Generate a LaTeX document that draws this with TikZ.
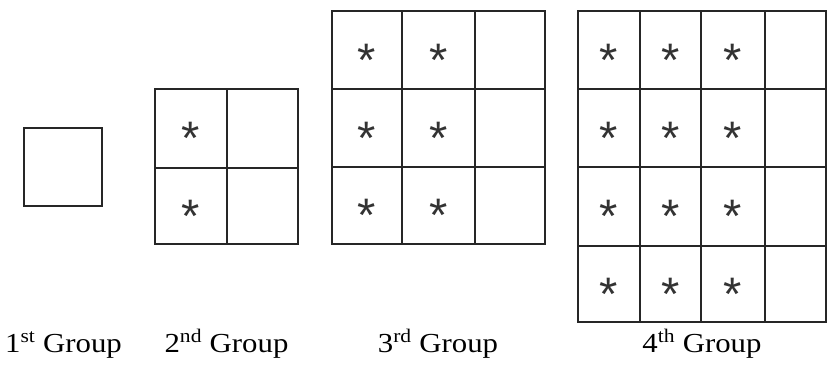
\documentclass[tikz,border=0pt]{standalone}
\usepackage{fontspec}
\setmainfont{Liberation Serif}
\newfontfamily\labelfont[FakeStretch=1.12]{Liberation Serif}
\newfontfamily\astfont{Liberation Sans}
\usetikzlibrary{positioning}
\tikzset{
    cellline/.style={
        draw=black!85,
        line width=1.6pt,
    },
    ast/.style={
        font=\astfont\fontsize{47}{47}\selectfont,
        text=black!80,
        inner sep=0pt,
        yshift=-10pt,
    },
    grouplabel/.style={
        font=\labelfont\fontsize{27.5}{30}\selectfont,
        inner sep=0pt,
        anchor=base,
    },
}

\begin{document}
\begin{tikzpicture}[x=1pt, y=-1pt]
    \useasboundingbox (0,0) rectangle (828,370);

    % 1st group
    \draw[cellline] (24,128) rectangle (102,206);

    % 2nd group
    \draw[cellline] (155,89) rectangle (298,244);
    \draw[cellline] (227,89) -- (227,244) (155,168) -- (298,168);
    \foreach \y [count=\j] in {128.5,206}
        \node[ast] (twoA\j) at (191,\y) {*};

    % 3rd group
    \draw[cellline] (332,11) rectangle (545,244);
    \draw[cellline] (402,11) -- (402,244) (475,11) -- (475,244);
    \draw[cellline] (332,89) -- (545,89) (332,167) -- (545,167);
    \foreach \x [count=\i] in {367,438.5}
        \foreach \y [count=\j] in {50,128,205.5}
            \node[ast] (three\i\j) at (\x,\y) {*};

    % 4th group
    \draw[cellline] (578,11) rectangle (826,322);
    \draw[cellline] (640,11) -- (640,322) (701,11) -- (701,322) (765,11) -- (765,322);
    \draw[cellline] (578,89) -- (826,89) (578,167) -- (826,167) (578,246) -- (826,246);
    \foreach \x [count=\i] in {609,670.5,733}
        \foreach \y [count=\j] in {50,128,206.5,284}
            \node[ast] (four\i\j) at (\x,\y) {*};

    % Labels
    \node[grouplabel] (lab1) at (63.5,352) {1\textsuperscript{st} Group};
    \node[grouplabel] (lab2) at (226.5,352) {2\textsuperscript{nd} Group};
    \node[grouplabel] (lab3) at (438,352) {3\textsuperscript{rd} Group};
    \node[grouplabel] (lab4) at (702,352) {4\textsuperscript{th} Group};
\end{tikzpicture}
\end{document}
